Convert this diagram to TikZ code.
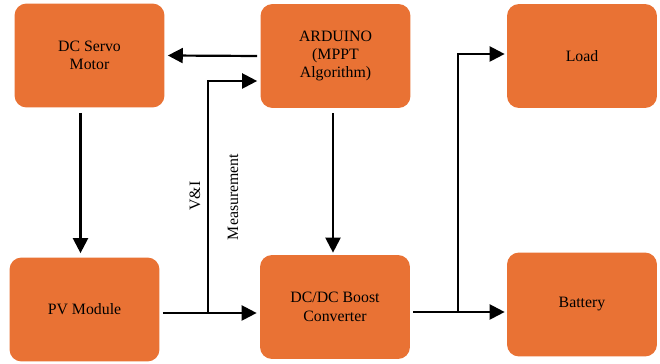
\documentclass[tikz,border=0pt]{standalone}
\usepackage{fontspec}
\setmainfont{Liberation Serif}
\usepackage{tikz}
\usetikzlibrary{arrows.meta,calc}
\definecolor{boxorange}{RGB}{233,114,52}
\tikzset{
  blk/.style={draw=none, fill=boxorange, rounded corners=0.24cm, minimum width=3cm, minimum height=2.08cm, inner sep=0pt, align=center, font=\fontsize{9}{10.5}\selectfont},
  arr/.style={-{Triangle[length=8.5pt,width=8.5pt]}, line width=1.25pt, black},
  lbl/.style={rotate=90, font=\fontsize{9}{10.5}\selectfont}
}
\begin{document}
\begin{tikzpicture}[x=0.02cm,y=-0.02cm]
\useasboundingbox (0,0) rectangle (660,364);
\node[blk] (servo) at (89.5,55.5) {DC Servo\\Motor};
\node[blk] (arduino) at (335.5,56) {ARDUINO\\(MPPT\\Algorithm)};
\node[blk] (load) at (582,56) {Load};
\node[blk] (pv) at (84.5,309.5) {PV Module};
\node[blk] (dcdc) at (335,307) {DC/DC Boost\\Converter};
\node[blk] (battery) at (582,304.5) {Battery};
\node[lbl] (vi) at (195,196) {V\&I};
\node[lbl] (meas) at (233,197) {Measurement};
\coordinate (pvout) at ($(pv.east)+(3,3.5)$);
\coordinate (tap) at (208,313);
\coordinate (dcout) at ($(dcdc.east)+(3,5)$);
\coordinate (split) at (458,312);
\draw[arr] ($(arduino.west)+(-3,0)$) -- ($(servo.east)+(3,0)$);
\draw[arr] ($(servo.south)+(-9,5)$) -- ($(pv.north)+(-4,-4)$);
\draw[arr] ($(arduino.south)+(-2.5,5)$) -- ($(dcdc.north)+(-2,-2)$);
\draw[arr] (pvout) -- ($(pvout -| dcdc.west)+(-3,0)$);
\draw[arr] (tap) |- ($(arduino.west)+(-3,25)$);
\draw[arr] (dcout) -- ($(dcout -| battery.west)+(-2,0)$);
\draw[arr] (split) |- ($(load.west)+(-2,-2)$);
\end{tikzpicture}
\end{document}
